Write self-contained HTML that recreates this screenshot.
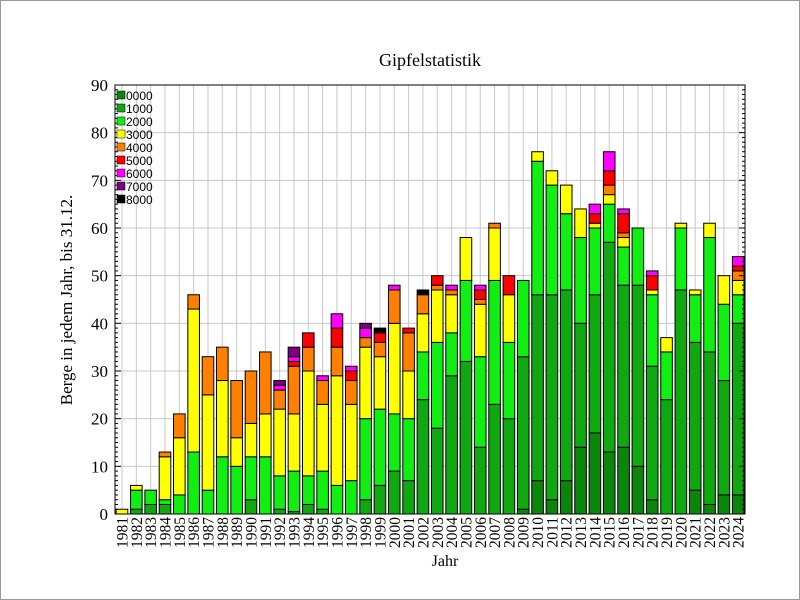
<!DOCTYPE html>
<html><head><meta charset="utf-8"><style>
html,body{margin:0;padding:0;background:#fff;}
svg{display:block;font-family:"Liberation Serif",serif;}
</style></head><body>
<svg id="s" width="800" height="600" viewBox="0 0 800 600">
<rect x="0.5" y="0.5" width="799" height="599" fill="#fff" stroke="#999"/>
<text x="430" y="66" font-size="18" text-anchor="middle">Gipfelstatistik</text>
<g id="g"></g>
<text x="445" y="566" font-size="16" text-anchor="middle">Jahr</text>
<text transform="translate(72,300) rotate(-90)" font-size="17" text-anchor="middle">Berge in jedem Jahr, bis 31.12.</text>
</svg>
<script>
var cols=["#0a860a","#10a810","#11ee11","#ffff00","#ff7f00","#ff0000","#ff00ff","#800080","#000000"];
var D={
1981:[0,0,0,1],1982:[0,1,5,6],1983:[0,2,5],1984:[0,2,3,12,13],1985:[0,0,4,16,21],
1986:[0,0,13,43,46],1987:[0,0,5,25,33],1988:[0,0,12,28,35],1989:[0,0,10,16,28],1990:[0,3,12,19,30],
1991:[0,0,12,21,34],1992:[0,1,8,22,26,26,27,28],1993:[0,0.5,9,21,31,32,33,35],1994:[0,2,8,30,35,38],
1995:[0,1,9,23,28,28,29],1996:[0,0,6,29,35,39,42],1997:[0,0,7,23,28,30,31],1998:[0,3,20,35,37,37,39,40],
1999:[0,6,22,33,36,38,38,38,39],2000:[0,9,21,40,47,47,48],2001:[0,7,20,30,38,39],2002:[0,24,34,42,46,46,46,46,47],
2003:[0,18,36,47,48,50],2004:[0,29,38,46,47,47,48],2005:[0,32,49,58],2006:[0,14,33,44,45,47,48],
2007:[0,23,49,60,61],2008:[0,20,36,46,46,50],2009:[1,33,49],2010:[7,46,74,76],2011:[3,46,69,72],
2012:[7,47,63,69],2013:[14,40,58,64],2014:[17,46,60,61,61,63,65],2015:[13,57,65,67,69,72,76],
2016:[14,48,56,58,59,63,64],2017:[10,48,60],2018:[3,31,46,47,47,50,51],2019:[0,24,34,37],
2020:[0,47,60,61],2021:[5,36,46,47],2022:[2,34,58,61],2023:[4,28,44,50],2024:[4,40,46,49,51,52,54]};
var L=115,R=745,T=85,B=514,sc=(B-T)/90,g=document.getElementById("g"),h="";
function Y(v){return B-v*sc;}
for(var i=0;i<44;i++){var cx=122+i*14.33;h+='<line x1="'+cx+'" y1="'+T+'" x2="'+cx+'" y2="'+B+'" stroke="#c8c8c8"/>';}
for(var v=10;v<90;v+=10)h+='<line x1="'+L+'" y1="'+Y(v)+'" x2="'+R+'" y2="'+Y(v)+'" stroke="#c8c8c8"/>';
for(var i=0;i<44;i++){var yr=1981+i,cx=122+i*14.33,a=D[yr],prev=0;
 for(var k=0;k<a.length;k++){var t=a[k];if(t>prev){h+='<rect x="'+(cx-5.8)+'" y="'+Y(t)+'" width="11.6" height="'+((t-prev)*sc)+'" fill="'+cols[k]+'" stroke="#000" stroke-width="1"/>';prev=t;}}
 h+='<text transform="translate('+(cx+5.5)+',517) rotate(-90)" font-size="15.5" text-anchor="end">'+yr+'</text>';}
h+='<rect x="'+L+'" y="'+T+'" width="'+(R-L)+'" height="'+(B-T)+'" fill="none" stroke="#000"/>';
for(var v=0;v<=90;v++){var y=Y(v),len=v%10==0?6:3;h+='<line x1="'+L+'" y1="'+y+'" x2="'+(L+len)+'" y2="'+y+'" stroke="#000"/>';h+='<line x1="'+R+'" y1="'+y+'" x2="'+(R-len)+'" y2="'+y+'" stroke="#000"/>';
 if(v%10==0)h+='<text x="'+(L-7)+'" y="'+(y+6)+'" font-size="17" text-anchor="end">'+v+'</text>';}
var names=["0000","1000","2000","3000","4000","5000","6000","7000","8000"];
for(var k=0;k<9;k++){var y=91+k*13;h+='<rect x="117" y="'+y+'" width="8" height="8" fill="'+cols[k]+'" stroke="#000" stroke-width="0.5"/><text x="126" y="'+(y+9)+'" font-size="12" font-family="Liberation Sans,sans-serif">'+names[k]+'</text>';}
g.innerHTML=h;
</script>
</body></html>
